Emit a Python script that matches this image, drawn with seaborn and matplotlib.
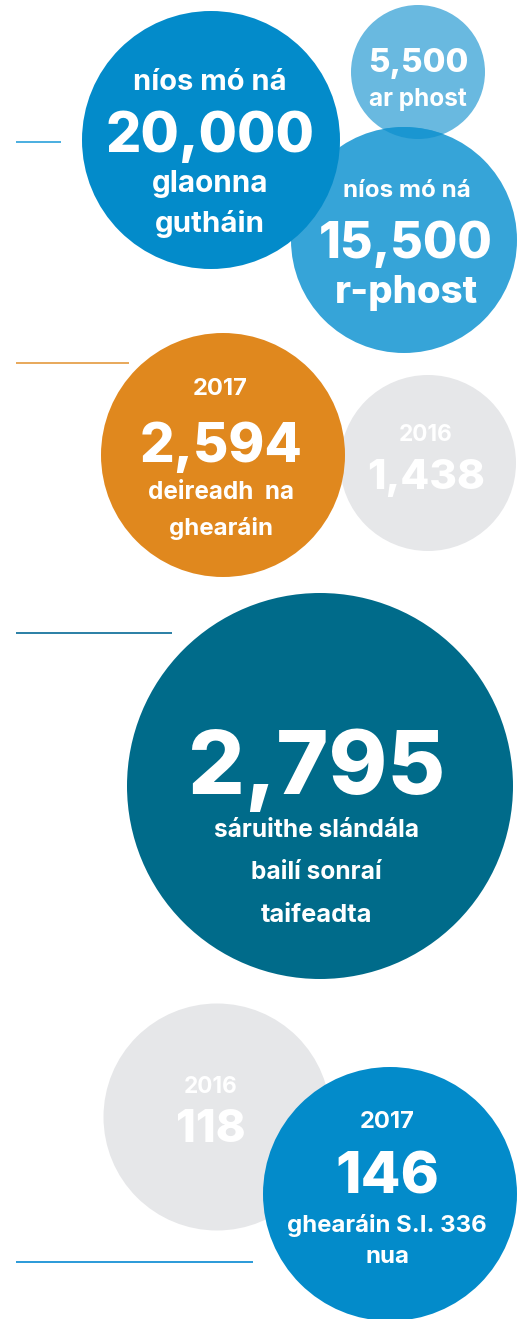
import matplotlib
matplotlib.use("Agg")
import matplotlib.pyplot as plt
from matplotlib.patches import Circle
import pandas as pd
import seaborn as sns

# Data: what each bubble says
bubble_names = ["2016 complaints", "2017 complaints", "post", "email", "calls",
                "breaches", "2016 SI 336", "2017 SI 336"]
top_lines = ["2016", "2017", "", "níos mó ná", "níos mó ná", "", "2016", "2017"]
values = ["1,438", "2,594", "5,500", "15,500", "20,000", "2,795", "118", "146"]
bottom_lines = [[], ["deireadh  na", "ghearáin"], ["ar phost"], ["r-phost"],
                ["glaonna", "gutháin"], ["sáruithe slándála", "bailí sonraí", "taifeadta"],
                [], ["ghearáin S.I. 336", "nua"]]

# Layout (pixels): bubble centre and radius
bubble_x = [428, 223, 418, 404, 211, 320, 217, 390]
bubble_y = [463, 455, 72, 240, 140, 786, 1117, 1194]
bubble_r = [88, 122, 67, 113, 129, 193, 113.5, 127]
bubble_colors = ["#e6e7e9", "#e0881e", "#69b9e0", "#36a4d8", "#038bca",
                 "#006b8a", "#e6e7e9", "#038bca"]

# text lines per bubble: (baseline y, centre x, width px)
text_layout = [
    [(441, 426, 54), (489, 426, 118)],
    [(395, 220.5, 55), (462, 221.5, 163), (499, 221, 146), (535, 221, 104)],
    [(72, 418, 100), (106, 418, 98)],
    [(197, 407, 128), (258, 406, 174), (303, 406.5, 143)],
    [(90, 210, 154), (152, 210.5, 209), (192, 210, 117), (232, 210, 110)],
    [(794, 316.5, 257), (837, 316, 206), (879, 316.5, 131), (922, 316.5, 111)],
    [(1093, 211, 54), (1142, 211, 70)],
    [(1128, 387.5, 55), (1194, 387, 104), (1232, 387, 200), (1263, 387.5, 44)],
]

# the short rules at the left
rule_y = [142, 363, 633, 1262]
rule_x_end = [61, 129, 172, 253]
rule_colors = ["#4aaee0", "#e8a85a", "#2a7fa5", "#2a9ad8"]

W, H, DPI = 528, 1319, 100
FONT = ["Inter", "DejaVu Sans"]

sns.set_theme(style="white")
plt.rcParams["font.family"] = FONT

fig = plt.figure(figsize=(W / DPI, H / DPI), dpi=DPI)
ax = fig.add_axes([0, 0, 1, 1])
ax.set_xlim(0, W)
ax.set_ylim(H, 0)
ax.set_axis_off()

df = pd.DataFrame({"x": bubble_x, "y": bubble_y, "name": bubble_names,
                   "r": bubble_r})
# marker area in pt^2, 1 data unit == 1 px
px2pt = 72 / DPI
size_map = {n: (2 * r * px2pt) ** 2 for n, r in zip(bubble_names, bubble_r)}
sns.scatterplot(data=df, x="x", y="y", hue="name", size="name",
                palette=dict(zip(bubble_names, bubble_colors)), sizes=size_map,
                linewidth=0, legend=False, ax=ax, zorder=2)

# darker lens where the post and email bubbles overlap
clip = Circle((bubble_x[3], bubble_y[3]), bubble_r[3], transform=ax.transData)
lens = Circle((bubble_x[2], bubble_y[2]), bubble_r[2], color="#1a96d1",
              lw=0, zorder=3)
ax.add_patch(lens)
lens.set_clip_path(clip)

for y, xe, c in zip(rule_y, rule_x_end, rule_colors):
    ax.plot([16, xe], [y, y], color=c, lw=1.4, solid_capstyle="butt")

fig.canvas.draw()
renderer = fig.canvas.get_renderer()

for i in range(len(values)):
    lines = []
    if top_lines[i]:
        lines.append((top_lines[i], "bold"))
    lines.append((values[i], "heavy"))
    for b in bottom_lines[i]:
        lines.append((b, "heavy" if b == "r-phost" else "bold"))
    for (txt, weight), (ty, tx, tw) in zip(lines, text_layout[i]):
        t = ax.text(tx, ty, txt, ha="center", va="baseline", color="white",
                    fontsize=20, fontweight=weight, zorder=5)
        bb = t.get_window_extent(renderer)
        t.set_fontsize(20 * tw / bb.width)

fig.savefig("out.png", dpi=DPI)
